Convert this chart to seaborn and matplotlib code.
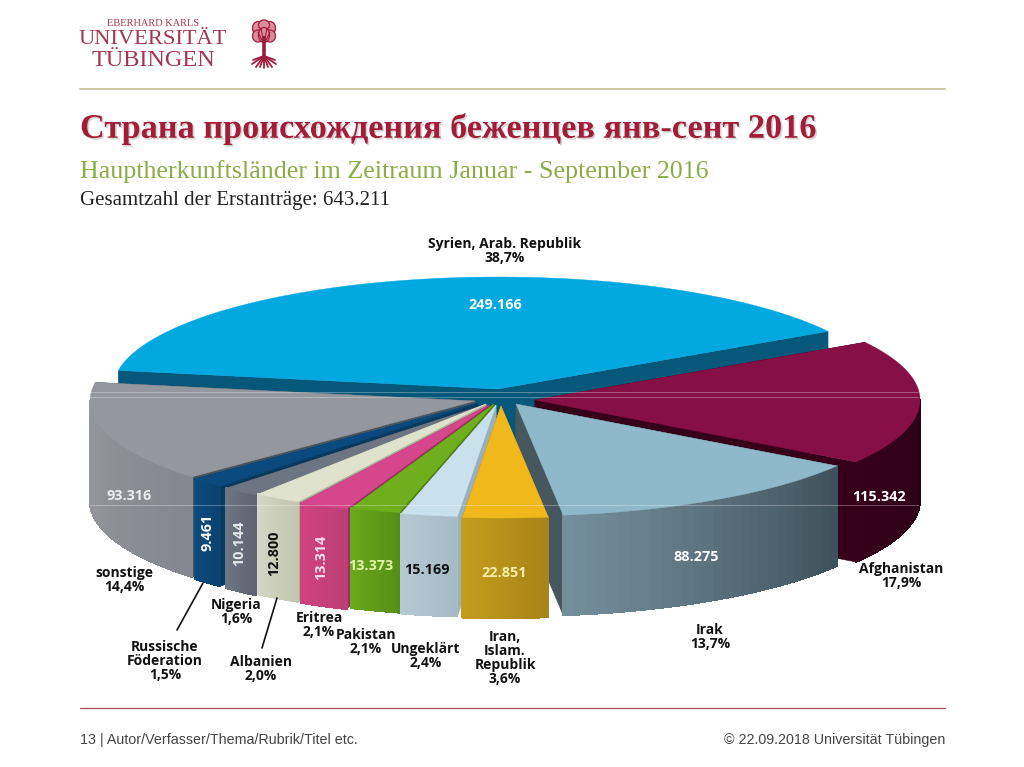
import numpy as np
import matplotlib
matplotlib.use('Agg')
import matplotlib.pyplot as plt
import matplotlib.patheffects as pe
from matplotlib.collections import PolyCollection
from matplotlib.patches import Ellipse
import seaborn as sns

# Data, in the order the slices run round the pie
countries = ['Syrien, Arab. Republik', 'sonstige', 'Russische\nFöderation', 'Nigeria', 'Albanien',
             'Eritrea', 'Pakistan', 'Ungeklärt', 'Iran,\nIslam.\nRepublik', 'Irak', 'Afghanistan']
applications = [249166, 93316, 9461, 10144, 12800, 13314, 13373, 15169, 22851, 88275, 115342]
shares = ['38,7%', '14,4%', '1,5%', '1,6%', '2,0%', '2,1%', '2,1%', '2,4%', '3,6%', '13,7%', '17,9%']

# Colours per slice: top, cut face, wall left, wall right, value text
top_colors = ['#02a8e0', '#95979e', '#0b4a7e', '#6d7482', '#dfe3cd', '#d5468a', '#6fae1c', '#c9e1ec',
              '#f1b81c', '#8fb8cb', '#860f45']
cut_colors = ['#05587a', '#47555f', '#08395f', '#515864', '#a9ad9b', '#9c3063', '#4d7c12', '#9ab0bc',
              '#a98517', '#46575f', '#36001b']
wall_left = ['#05587a', '#96989e', '#0c4c80', '#6f7683', '#d4d7c3', '#d0427f', '#6aa81c', '#b5c9d3',
             '#c49c1c', '#748f9c', '#36001b']
wall_right = ['#05587a', '#85878e', '#0a4270', '#5e6571', '#c2c6b1', '#bd3f75', '#568f16', '#a6bbc6',
              '#a8841a', '#3e525b', '#2c0016']
value_colors = ['white', '#ecedee', 'white', '#e8e9ea', '#111111', '#f7dbe8', '#dff5a8', '#111111',
                '#fbeeaa', 'white', 'white']

# Layout of the pie, in pixels
center_x, center_y = 500, 400
radius_x, radius_y = 385, 112
depth = 100
start_angle = 31
pull_x = [-2, -25, -22, -16, -14, -11, -6, -4, 1, 16, 35]
pull_y = [-11, 1, 3, 5, 4, 5, 4, 5, 6, 4, 0]
draw_order = [0, 10, 9, 1, 2, 3, 4, 5, 6, 7, 8]

value_pos = [(495, 305), (129, 496), (208, 532), (239, 543), (274, 553), (321, 557), (371, 566),
             (427, 570), (504, 573), (696, 557), (879, 497)]
value_rot = [0, 0, 90, 90, 90, 90, 0, 0, 0, 0, 0]
label_pos = [(505, 251), (124, 580), (165, 661), (236, 612), (261, 669), (319, 625), (366, 642),
             (426, 656), (505, 658), (710, 637), (901, 576)]

sns.set_theme(style='white')
plt.rcParams['font.family'] = ['Open Sans', 'DejaVu Sans']

fig = plt.figure(figsize=(10.24, 7.67), dpi=100, facecolor='white')
ax = fig.add_axes([0, 0, 1, 1])
ax.set_xlim(0, 1024)
ax.set_ylim(767, 0)
ax.axis('off')


def rim(cx, cy, a0, a1, n=80):
    t = np.radians(np.linspace(a0, a1, n))
    return cx + radius_x * np.cos(t), cy - radius_y * np.sin(t)


# Angles come straight from the values
total = sum(applications)
edges = start_angle + np.concatenate([[0], np.cumsum(applications)]) * 360 / total

z = 2
for i in draw_order:
    a0, a1 = edges[i], edges[i + 1]
    cx, cy = center_x + pull_x[i], center_y + pull_y[i]

    # cut faces, pushed down by the depth
    for a in (a0, a1):
        ex, ey = rim(cx, cy, a, a, 1)
        ax.fill([cx, ex[0], ex[0], cx], [cy, ey[0], ey[0] + depth, cy + depth],
                color=cut_colors[i], lw=0.4, zorder=z)
    z += 1

    # outer wall only where it faces the viewer
    w0, w1 = max(a0, 180), min(a1, 360)
    if w1 > w0:
        wx, wy = rim(cx, cy, w0, w1, 30)
        quads = [[(wx[k], wy[k]), (wx[k + 1], wy[k + 1]), (wx[k + 1], wy[k + 1] + depth), (wx[k], wy[k] + depth)]
                 for k in range(len(wx) - 1)]
        shades = sns.blend_palette([wall_left[i], wall_right[i]], len(quads))
        ax.add_collection(PolyCollection(quads, facecolors=shades, edgecolors=shades, linewidths=0.8,
                                         antialiaseds=False, zorder=z))
    z += 1

    # top surface
    tx, ty = rim(cx, cy, a0, a1)
    ax.fill(np.r_[cx, tx], np.r_[cy, ty], color=top_colors[i], lw=0.3, zorder=z)
    z += 1

for i, name in enumerate(countries):
    ax.text(*value_pos[i], f'{applications[i]:,}'.replace(',', '.'), color=value_colors[i], rotation=value_rot[i],
            ha='center', va='center', fontsize=10.4, fontweight='bold', zorder=60)
    ax.text(*label_pos[i], name + '\n' + shares[i], color='#111111', ha='center', va='center',
            fontsize=10, fontweight='bold', linespacing=1.0, zorder=60)

# leader lines for the two narrow slices
ax.plot([203, 177], [583, 630], color='#111111', lw=1.2, zorder=60)
ax.plot([277, 262], [598, 648], color='#111111', lw=1.2, zorder=60)

# faint scan lines that run across the picture
for y in (392, 397, 505):
    ax.plot([90, 918], [y, y], color='white', lw=0.6, alpha=0.35, zorder=55)

# slide furniture
ax.plot([80, 945], [89, 89], color='#cbc29e', lw=1.4)
ax.plot([80, 945], [708, 708], color='#b25a70', lw=1)
ax.text(80, 129, 'Страна происхождения беженцев янв-сент 2016', family='Liberation Serif', fontweight='bold',
        fontsize=24.7, color='#a31c38', va='center',
        path_effects=[pe.withSimplePatchShadow(offset=(1.2, -1.2), shadow_rgbFace='#999999', alpha=0.4)])
ax.text(80, 172, 'Hauptherkunftsländer im Zeitraum Januar - September 2016', family='Liberation Serif',
        fontsize=18.7, color='#8bad45', va='center')
ax.text(80, 201, 'Gesamtzahl der Erstanträge: 643.211', family='Liberation Serif', fontsize=15,
        color='#222222', va='center')
ax.text(80, 740, '13 | Autor/Verfasser/Thema/Rubrik/Titel etc.', family='Liberation Sans', fontsize=10.3,
        color='#444444', va='center')
ax.text(945, 740, '© 22.09.2018 Universität Tübingen', family='Liberation Sans', fontsize=10.3,
        color='#444444', va='center', ha='right')

# logo
logo = '#a5354f'
tree = '#a01c3c'
ax.text(153, 24, 'EBERHARD KARLS', family='Liberation Serif', fontsize=7.5, color=logo, ha='center', va='center')
ax.text(153, 39, 'UNIVERSITÄT', family='Liberation Serif', fontsize=16.2, color=logo, ha='center', va='center')
ax.text(153, 60, 'TÜBINGEN', family='Liberation Serif', fontsize=17.5, color=logo, ha='center', va='center')
for lobe_x, lobe_y, lobe_w, lobe_h in [(258, 28, 11, 13), (270, 28, 11, 13), (264, 25, 11, 10),
                                       (258, 36, 11, 12), (270, 36, 11, 12), (264, 35, 11, 15)]:
    ax.add_patch(Ellipse((lobe_x, lobe_y), lobe_w, lobe_h, facecolor='#dc8c9c', edgecolor=tree, lw=0.9))
ax.plot([264, 264], [36, 60], color=tree, lw=2.6, solid_capstyle='butt')
for tip_x, tip_y in [(-11, 60), (-12, 64), (-8, 67), (-4, 67), (0, 68), (4, 67), (8, 67), (12, 64), (11, 60)]:
    ax.plot([264, 264 + tip_x], [56, tip_y], color=tree, lw=1.3)
for tip_x, tip_y in [(-6, 32), (-3, 28), (3, 28), (6, 32)]:
    ax.plot([264, 264 + tip_x], [44, tip_y], color=tree, lw=0.8)

fig.savefig('out.png', dpi=100, facecolor='white')
